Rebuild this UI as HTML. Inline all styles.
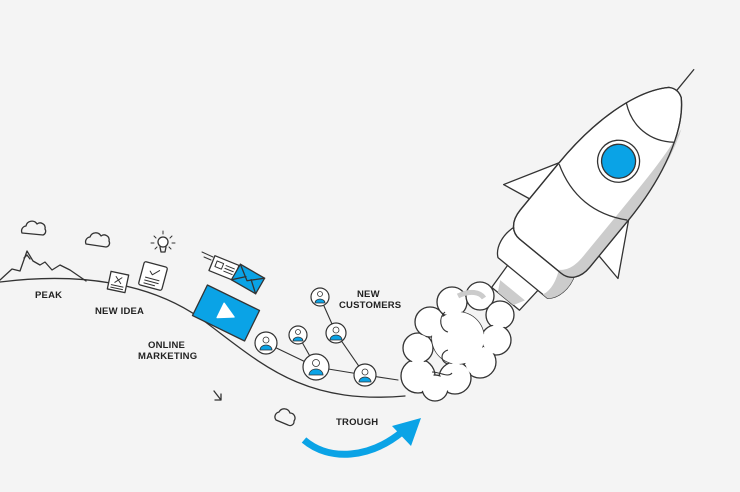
<!DOCTYPE html>
<html><head><style>
html,body{margin:0;padding:0;background:#f4f4f4;}
svg{display:block}
text{font-family:"Liberation Sans",sans-serif;font-weight:bold;font-size:9.5px;fill:#222;letter-spacing:0.2px}
</style></head><body>
<svg width="740" height="492" viewBox="0 0 740 492" xmlns="http://www.w3.org/2000/svg">
<rect width="740" height="492" fill="#f4f4f4"/>
<g fill="none" stroke="#333" stroke-width="1.3" stroke-linejoin="round" stroke-linecap="round">
<path d="M0,282 C80,272 150,283 200,318 C260,362 300,405 405,396"/>
<polyline points="0,280 12,269 20,271 27,251 33,261 40,265 45,262 52,270 60,265 70,270 86,281"/>
<polyline points="24,258 27,255 30,259"/>
<path d="M22,233 a5,5 0 0 1 4,-7 a6,6 0 0 1 11,-2 a5,5 0 0 1 8,5 a4,4 0 0 1 -2,6 z" fill="#f4f4f4"/>
<path d="M86,244 a5,5 0 0 1 4,-7 a6,6 0 0 1 11,-1 a5,5 0 0 1 8,5 a4,4 0 0 1 -3,6 z" fill="#f4f4f4"/>
<path d="M276,420 a5,5 0 0 1 3,-8 a6,6 0 0 1 11,1 a5,5 0 0 1 4,8 a4,4 0 0 1 -6,4 z" fill="#f4f4f4"/>
<path d="M214,391 L221,400 M215,400 L221,400 L221,394"/>
<g transform="translate(118,282) rotate(12)">
<rect x="-9" y="-9" width="18" height="18" fill="#fff"/>
<path d="M-3,-5 L3,1 M3,-5 L-3,1 M-6,4 L6,4 M-6,6.5 L6,6.5" stroke-width="1"/>
</g>
<g transform="translate(153,276) rotate(15)">
<rect x="-12" y="-12" width="24" height="24" rx="2" fill="#fff"/>
<path d="M-4,-4 L-1,-1 L5,-7 M-7,3 L7,3 M-7,6 L7,6 M-7,9 L4,9" stroke-width="1"/>
</g>
<circle cx="163" cy="242" r="5" fill="#fff"/>
<path d="M160,247 L161,252 L165,252 L166,247"/>
<path d="M163,231 L163,234 M154,236 L156,238 M172,236 L170,238 M151,243 L154,243 M172,243 L175,243 M155,249 L157,247 M171,249 L169,247" stroke-width="1"/>
<path d="M202,252 L213,257 M204,257 L211,260" stroke-width="1"/>
<g transform="translate(224,268) rotate(22)">
<rect x="-13" y="-8" width="26" height="16" fill="#fff"/>
<rect x="-9" y="-4" width="7" height="6" stroke-width="1"/>
<path d="M1,-3 L10,-3 M1,0 L10,0 M1,3 L10,3" stroke-width="1"/>
</g>
<g transform="translate(248,279) rotate(30)">
<rect x="-14" y="-9" width="28" height="18" fill="#0aa3e6"/>
<path d="M-14,-9 L0,2 L14,-9 M-14,9 L-3,-1 M14,9 L3,-1"/>
</g>
<g transform="translate(226,313) rotate(26)">
<rect x="-29" y="-17" width="58" height="34" fill="#0aa3e6" stroke="#333"/>
<path d="M-6,-8 L9,0 L-6,8 z" fill="#fff" stroke="#fff"/>
</g>
<path d="M266,343 L316,367 L365,375 L398,380 M298,335 L316,367 M320,297 L336,333 L365,375" stroke-width="1.1"/>
</g>
<g stroke="#333" stroke-width="1.2">
<circle cx="266" cy="343" r="11" fill="#fff"/>
<circle cx="298" cy="335" r="9" fill="#fff"/>
<circle cx="316" cy="367" r="13" fill="#fff"/>
<circle cx="365" cy="375" r="11" fill="#fff"/>
<circle cx="336" cy="333" r="10" fill="#fff"/>
<circle cx="320" cy="297" r="9" fill="#fff"/>
</g>
<g fill="#0aa3e6" stroke="#333" stroke-width="0.8">
<path d="M260,350 a6,5 0 0 1 12,0 z"/><circle cx="266" cy="340" r="3" fill="#fff"/>
<path d="M293,341 a5,4 0 0 1 10,0 z"/><circle cx="298" cy="332" r="2.5" fill="#fff"/>
<path d="M309,375 a7,6 0 0 1 14,0 z"/><circle cx="316" cy="363" r="3.5" fill="#fff"/>
<path d="M359,382 a6,5 0 0 1 12,0 z"/><circle cx="365" cy="372" r="3" fill="#fff"/>
<path d="M330,340 a6,5 0 0 1 12,0 z"/><circle cx="336" cy="330" r="3" fill="#fff"/>
<path d="M315,303 a5,4 0 0 1 10,0 z"/><circle cx="320" cy="294" r="2.5" fill="#fff"/>
</g>
<path d="M304,440 C330,462 370,458 402,432" fill="none" stroke="#0aa3e6" stroke-width="7"/>
<path d="M392,426 L421,418 L411,446 z" fill="#0aa3e6"/>
<text x="35" y="298">PEAK</text>
<text x="95" y="314">NEW IDEA</text>
<text x="148" y="348">ONLINE</text>
<text x="138" y="359">MARKETING</text>
<text x="357" y="297">NEW</text>
<text x="339" y="308">CUSTOMERS</text>
<text x="336" y="425">TROUGH</text>
<g transform="translate(590,196) rotate(39.4)" stroke="#333" stroke-width="1.3" stroke-linejoin="round">
<line x1="0" y1="-136" x2="0" y2="-164"/>
<path d="M-40,-15 L-74,46 L-42,40 z" fill="#fff"/>
<path d="M40,-15 L74,46 L42,40 z" fill="#fff"/>
<path d="M-20,100 L-18,133 L18,133 L20,100 z" fill="#fff"/>
<path d="M-16,122 L-10,133 L10,133 L16,122 z" fill="#ccc" stroke="none"/>
<path d="M-38,70 C-44,85 -40,100 -32,106 L32,106 C40,100 44,85 38,70 z" fill="#fff"/>
<path d="M20,72 C28,85 30,98 26,106 L32,106 C40,100 44,85 38,70 z" fill="#ccc" stroke="none"/>
<path d="M-8,-134 Q0,-139 8,-134 C32,-110 45,-60 45,-5 L45,55 C45,70 37,78 27,78 L-27,78 C-37,78 -45,70 -45,55 L-45,-5 C-45,-60 -32,-110 -8,-134 z" fill="#fff"/>
<path d="M28,-110 C40,-80 45,-40 45,-5 L45,55 C45,70 37,78 27,78 L21,78 C31,72 33,62 33,50 L33,-10 C33,-50 33,-80 28,-110 z" fill="#ccc" stroke="none"/>
<path d="M-8,-134 Q0,-139 8,-134 C32,-110 45,-60 45,-5 L45,55 C45,70 37,78 27,78 L-27,78 C-37,78 -45,70 -45,55 L-45,-5 C-45,-60 -32,-110 -8,-134 z" fill="none"/>
<path d="M-31,-95 C-12,-80 12,-80 31,-95" fill="none"/>
<path d="M-44,-5 C-15,12 15,12 44,-5" fill="none"/>
<circle cx="0" cy="-45" r="21" fill="#fff"/>
<circle cx="0" cy="-45" r="17" fill="#0aa3e6"/>
</g>
<g stroke="#333" stroke-width="1.3" fill="#fff">
<circle cx="418" cy="376" r="17"/><circle cx="418" cy="348" r="15"/><circle cx="430" cy="322" r="15"/>
<circle cx="452" cy="302" r="15"/><circle cx="480" cy="296" r="14"/>
<circle cx="500" cy="315" r="14"/><circle cx="496" cy="340" r="15"/><circle cx="480" cy="362" r="16"/>
<circle cx="455" cy="378" r="16"/><circle cx="435" cy="388" r="13"/><circle cx="458" cy="338" r="26"/>
</g>
<g fill="#fff">
<circle cx="418" cy="376" r="15.6"/><circle cx="418" cy="348" r="13.6"/><circle cx="430" cy="322" r="13.6"/>
<circle cx="452" cy="302" r="13.6"/><circle cx="480" cy="296" r="12.6"/>
<circle cx="500" cy="315" r="12.6"/><circle cx="496" cy="340" r="13.6"/><circle cx="480" cy="362" r="14.6"/>
<circle cx="455" cy="378" r="14.6"/><circle cx="435" cy="388" r="11.6"/><circle cx="458" cy="338" r="26"/>
</g>
<path d="M445,312 C438,318 440,330 448,332 M448,350 C440,352 440,362 448,364 M432,372 C440,372 448,378 452,373" fill="none" stroke="#333" stroke-width="1.1"/>
<path d="M458,296 C470,290 480,292 484,298" fill="none" stroke="#ccc" stroke-width="5"/>
</svg>
</body></html>
